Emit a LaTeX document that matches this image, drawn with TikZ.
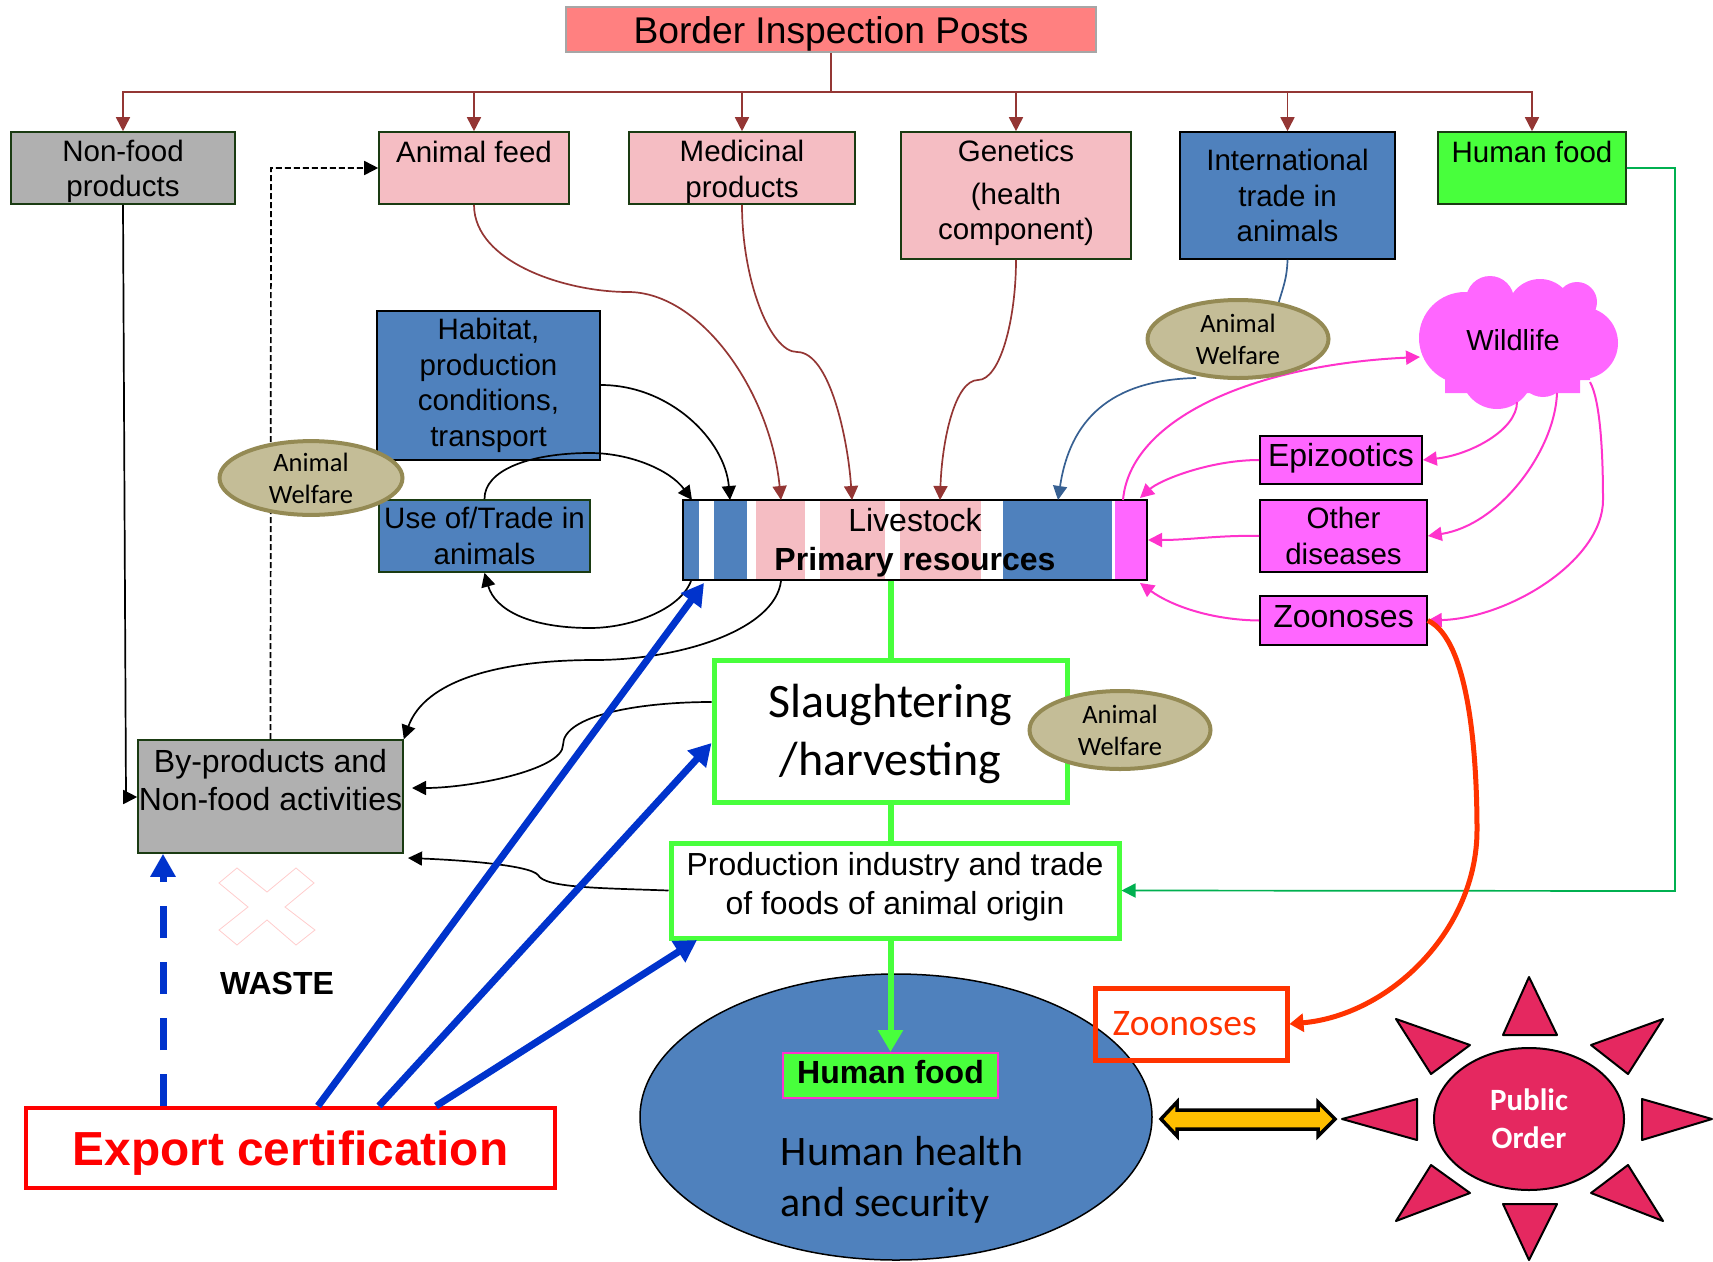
\documentclass[tikz,border=0pt]{standalone}
\usepackage{fontspec}
\setmainfont{Liberation Sans}
\newfontfamily\calibri{Carlito}
\usepackage{tikz}
\usetikzlibrary{arrows.meta}
\usetikzlibrary{shapes.geometric}
\definecolor{boxblue}{HTML}{4F81BD}
\definecolor{boxpink}{HTML}{F5BDC3}
\definecolor{boxgrey}{HTML}{B0B0B0}
\definecolor{boxgreen}{HTML}{48FF3C}
\definecolor{boxmagenta}{HTML}{FF66FF}
\definecolor{linepink}{HTML}{FF33CC}
\definecolor{edgebrown}{HTML}{943634}
\definecolor{edgeblue}{HTML}{376092}
\definecolor{thickblue}{HTML}{0033CC}
\definecolor{edgegreen}{HTML}{00B050}
\definecolor{zoored}{HTML}{FF3300}
\definecolor{welfarefill}{HTML}{C4BD97}
\definecolor{welfareline}{HTML}{948A54}
\definecolor{sunred}{HTML}{E52860}
\definecolor{darkline}{HTML}{1A3B12}
\newcommand{\sz}[2]{\fontsize{#1}{#2}\selectfont}
\newcommand{\hh}[1]{\rule{0pt}{#1pt}}
\newcommand{\dd}[1]{\rule[-#1pt]{0pt}{0pt}}

\begin{document}
\begin{tikzpicture}[x=1pt, y=-1pt,
    every node/.style={inner sep=0pt, align=center},
    wh/.style 2 args={minimum width=#1pt, minimum height=#2pt},
    box/.style={draw=darkline, line width=1.6pt, font={\sz{29.5}{35.5}}},
    bluebox/.style={box, draw=black, fill=boxblue},
    pinkbox/.style={box, fill=boxpink},
    greybox/.style={box, fill=boxgrey},
    pinkybox/.style={box, fill=boxmagenta},
    greenbox/.style={draw=boxgreen, line width=5pt, fill=white},
    welfare/.style={draw=welfareline, line width=4pt, fill=welfarefill, ellipse, font={\calibri\sz{26.5}{32}}},
    >={Triangle[length=14pt, width=14pt]},
    thinedge/.style={->, line width=1.7pt},
    brownedge/.style={thinedge, edgebrown},
    pinkedge/.style={thinedge, linepink, line width=2pt},
    blueedge/.style={-{Triangle[length=22pt, width=24pt]}, thickblue, line width=7pt},
    greenedge/.style={boxgreen, line width=6pt},
    sunray/.style={draw=black, line width=2pt, fill=sunred, line join=round}]
            \useasboundingbox (0,0) rectangle (1713,1261);

            % Livestock bar stripes
            \foreach \xa/\xb/\col in {683/699/boxblue, 714/747/boxblue, 756/805/boxpink, 820/885/boxpink, 900/981/boxpink, 1003/1112/boxblue, 1115/1147/boxmagenta}
                \fill[\col] (\xa,500) rectangle (\xb,580);

            % Nodes
            \node[draw=black!35, line width=2pt, fill=red!50, wh={530}{45}, font={\sz{37.2}{40}}, text height=28pt, text depth=0pt] (posts) at (831,29.5) {Border Inspection Posts};
            \coordinate (bus) at (831,92);
            \node[greybox, wh={224}{72}] (nonfood) at (123,168) {\hh{28}Non-food\\products};
            \node[pinkbox, wh={190}{72}] (afeed) at (474,168) {\hh{24}Animal feed\\~};
            \node[pinkbox, wh={226}{72}] (medic) at (742,168) {\hh{29}Medicinal\\products};
            \node[pinkbox, wh={230}{127}] (genet) at (1016,195.5) {Genetics\\[7pt](health\\component)\dd{10.6}};
            \node[bluebox, wh={215}{127}] (trade) at (1287.5,195.5) {International\\trade in\\animals};
            \node[box, fill=boxgreen, wh={188}{72}] (topfood) at (1532,168) {\hh{24}Human food\\~};
            \node[bluebox, wh={223}{149}] (habitat) at (488.5,385.5) {Habitat,\\production\\conditions,\\transport};
            \node[box, fill=boxblue, wh={211}{72}] (useof) at (484.5,536) {Use of/Trade in\\animals};
            \node[draw=black, line width=2.5pt, wh={464}{80}, font={\sz{32}{39}}] (bar) at (915,540) {\hh{29.5}Livestock\\\textbf{Primary resources}};
            \node[greybox, wh={265}{113}, font={\sz{32}{38}}] (byprod) at (270.5,796.5) {\hh{28}By-products and\\Non-food activities\\~};
            \node[greenbox, wh={353}{142}, font={\calibri\sz{48}{58}}] (slaughter) at (890.5,731) {\hh{39.5}Slaughtering\\/harvesting};
            \node[greenbox, wh={448}{95}, font={\sz{31.9}{39}}] (prod) at (895,890.5) {Production industry and trade\\of foods of animal origin\dd{13.3}};
            \node[ellipse, draw=black, line width=1.5pt, fill=boxblue, wh={512}{286}] (health) at (896,1117) {};
            \node[font={\calibri\sz{42}{51}}, align=left] (healthtxt) at (902,1179.5) {Human health\\and security};
            \node[draw=linepink, line width=2pt, fill=boxgreen, wh={215}{45}, font={\bfseries\sz{32}{36}}] (food) at (890.5,1075.5) {Human food\dd{6.6}};
            \node[draw=zoored, line width=5pt, wh={192}{72}, font={\calibri\sz{37.5}{40}}, text=zoored] (zoored) at (1191,1024) {Zoonoses\,\,};
            \node[draw=red, line width=4pt, fill=white, wh={529}{80}, text=red, font={\bfseries\sz{47.8}{50}}] (export) at (290.5,1148) {\hh{44}Export certification};
            \node[pinkybox, wh={162}{48}, font={\sz{32}{36}}, draw=black] (epizo) at (1341,460) {Epizootics\dd{11}};
            \node[pinkybox, wh={167}{72}, draw=black] (other) at (1343.5,536) {Other\\diseases};
            \node[pinkybox, wh={167}{49}, font={\sz{32}{36}}, draw=black] (zoopink) at (1343.5,620.5) {Zoonoses\dd{8.8}};

            % Wildlife cloud
            \fill[boxmagenta] (1465,338) circle (46pt) (1490,300) circle (24pt) (1540,312) circle (33pt) (1577,302) circle (20pt) (1582,343) circle (36pt) (1497,373) circle (36pt) (1543,373) circle (24pt);
            \fill[boxmagenta] (1460,310) rectangle (1590,380) (1445,363) rectangle (1580,393);
            \node[font={\sz{29}{34}}] (wild) at (1513,340) {Wildlife};

            % Waste
            \draw[red!20, line width=0.8pt] (237,868) -- (267,892) -- (296,868) -- (314,883) -- (285,907) -- (315,930) -- (296,945) -- (267,920) -- (237,945) -- (219,930) -- (248,907) -- (219,883) -- cycle;
            \node[font={\bfseries\sz{32}{36}}] (waste) at (277,983) {WASTE};

            % Free ends
            \coordinate (barA) at (692,500);
            \coordinate (barB) at (730,500);
            \coordinate (barC) at (781,500);
            \coordinate (barD) at (852,500);
            \coordinate (barE) at (940,500);
            \coordinate (barF) at (1058,500);
            \coordinate (barG) at (1123,500);
            \coordinate (barH) at (1140,498);
            \coordinate (barI) at (1148,540);
            \coordinate (barJ) at (1140,583);
            \coordinate (barK) at (691,581);
            \coordinate (barL) at (781,581);
            \coordinate (barM) at (704,583);
            \coordinate (wildA) at (1420,357);
            \coordinate (wildB) at (1517,402);
            \coordinate (wildC) at (1557,393);
            \coordinate (wildD) at (1590,382);

            % Edges
            \foreach \n in {nonfood,afeed,medic,genet,trade,topfood}
                \draw[brownedge] (bus) -| (\n.north);
            \draw[line width=1.7pt, edgebrown] (posts.south) -- (bus);
            \draw[brownedge] (afeed.south) .. controls (474,262) and (565,292) .. (628,292) .. controls (700,292) and (770,390) .. (barC);
            \draw[brownedge] (medic.south) .. controls (742,280) and (770,352) .. (797,352) .. controls (830,352) and (848,440) .. (barD);
            \draw[brownedge] (genet.south) .. controls (1016,320) and (1000,380) .. (978,380) .. controls (955,380) and (942,440) .. (barE);
            \draw[line width=1.7pt, edgeblue] (trade.south) .. controls (1287,280) and (1282,290) .. (1278,305);
            \draw[thinedge, edgeblue] (1196,378) .. controls (1110,380) and (1070,420) .. (barF);
            \draw[thinedge] (habitat.east |- 0,385) .. controls (670,385) and (725,440) .. (barB);
            \draw[thinedge] (useof.north) .. controls (484,470) and (530,453) .. (590,453) .. controls (630,453) and (670,470) .. (barA);
            \draw[thinedge] (barK) .. controls (680,610) and (630,628) .. (590,628) .. controls (530,628) and (495,610) .. (useof.south);
            \draw[thinedge] (barL) .. controls (775,630) and (680,660) .. (595,660) .. controls (500,660) and (425,680) .. (byprod.north east);
            \draw[thinedge] (slaughter.west |- 0,702) .. controls (640,702) and (563,715) .. (563,745) .. controls (563,770) and (470,788) .. (412,788);
            \draw[thinedge] (prod.west) .. controls (600,888) and (545,888) .. (538,875) .. controls (530,865) and (460,860) .. (408,858);
            \draw[thinedge] (nonfood.south) -- (126,797) -- (byprod.west |- 0,797);
            \draw[thinedge, dash pattern=on 6pt off 3pt] (byprod.north) -- (271,168) -- (afeed.west);
            \draw[thinedge, edgegreen] (topfood.east) -- (1675,168) -- (1675,891) -- (prod.east);

            % Pink edges
            \draw[pinkedge] (barG) .. controls (1130,420) and (1250,365) .. (wildA);
            \draw[pinkedge] (wildB) .. controls (1517,430) and (1470,455) .. (epizo.east);
            \draw[pinkedge] (wildC) .. controls (1555,450) and (1500,525) .. (other.east);
            \draw[pinkedge] (wildD) .. controls (1600,400) and (1603,450) .. (1603,500) .. controls (1603,560) and (1510,618) .. (zoopink.east);
            \draw[pinkedge] (epizo.west) .. controls (1210,460) and (1160,480) .. (barH);
            \draw[pinkedge] (other.west) .. controls (1220,535) and (1190,540) .. (barI);
            \draw[pinkedge] (zoopink.west) .. controls (1210,620) and (1170,605) .. (barJ);
            \draw[-{Triangle[length=14pt, width=18pt]}, zoored, line width=5pt] (zoopink.east) .. controls (1470,640) and (1477,760) .. (1477,830) .. controls (1477,930) and (1390,1015) .. (zoored.east);

            % Welfare ellipses
            \node[welfare, wh={183}{72}] (welfareA) at (311,478) {\hh{20}Animal\\Welfare};
            \node[welfare, wh={181}{78}] (welfareB) at (1238,339) {\hh{20}Animal\\Welfare};
            \node[welfare, wh={181}{78}] (welfareC) at (1120,730) {\hh{20}Animal\\Welfare};

            % Thick edges
            \draw[greenedge] (bar.south -| slaughter.north) -- (slaughter.north);
            \draw[greenedge] (slaughter.south) -- (slaughter.south |- prod.north);
            \draw[greenedge, -{Triangle[length=22pt, width=24pt]}] (food.north |- prod.south) -- (food.north);
            \draw[blueedge] (export.north -| 318,0) -- (barM);
            \draw[blueedge] (export.north -| 379,0) -- (slaughter.west |- 0,743);
            \draw[blueedge] (export.north -| 436,0) -- (697,940);
            \draw[thickblue, line width=7pt, dash pattern=on 32pt off 24pt, -{Triangle[length=23pt, width=24pt]}] (export.north -| 163,0) -- (byprod.south -| 163,0);

            % Public order
            \draw[draw=black, line width=3.5pt, fill=orange!50!yellow, line join=miter] (1161,1119) -- (1177,1102) -- (1177,1110) -- (1318,1110) -- (1318,1102) -- (1335,1119) -- (1318,1136) -- (1318,1129) -- (1177,1129) -- (1177,1136) -- cycle;
            \node[ellipse, draw=black, line width=2pt, fill=sunred, wh={190}{142}, text=white, font={\calibri\bfseries\sz{31}{38}}] (order) at (1529,1119) {Public\\Order};
            \draw[sunray] (1529,977) -- (1503,1035) -- (1557,1035) -- cycle;
            \draw[sunray] (1396,1019) -- (1470,1045) -- (1431,1074) -- cycle;
            \draw[sunray] (1663,1019) -- (1591,1045) -- (1628,1074) -- cycle;
            \draw[sunray] (1342,1119) -- (1417,1099) -- (1417,1140) -- cycle;
            \draw[sunray] (1712,1119) -- (1642,1099) -- (1642,1140) -- cycle;
            \draw[sunray] (1396,1221) -- (1470,1193) -- (1431,1165) -- cycle;
            \draw[sunray] (1663,1221) -- (1591,1193) -- (1628,1165) -- cycle;
            \draw[sunray] (1529,1260) -- (1503,1204) -- (1557,1204) -- cycle;
\end{tikzpicture}
\end{document}
